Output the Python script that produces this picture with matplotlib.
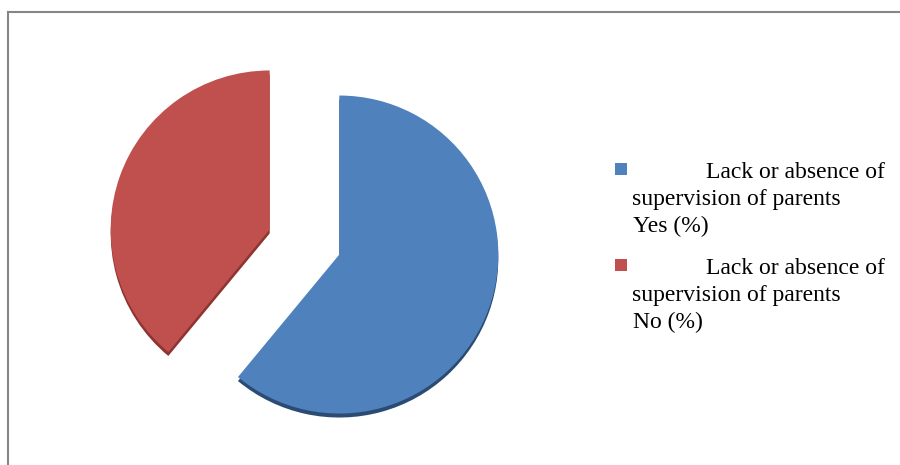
import matplotlib
matplotlib.use("Agg")
import matplotlib.pyplot as plt
from matplotlib.patches import Rectangle

# data
labels = ["Lack or absence of\nsupervision of parents\nYes (%)",
          "Lack or absence of\nsupervision of parents\nNo (%)"]
values = [61, 39]
colors = ["#4F81BD", "#C0504D"]
side_colors = ["#2B4B73", "#8E3431"]

W, H = 900, 465
fig = plt.figure(figsize=(W / 100, H / 100), dpi=100)
ax = fig.add_axes([0, 0, 1, 1])

def py(y):
    # pixel row (top origin) -> data y
    return H - y

cx, cy = 304.5, py(242)
r = 159
explode = [37, 37]  # pie() takes explode in data units here

# dark "side" of the 3d pie, slightly lower
ax.pie(values, colors=side_colors, startangle=90, counterclock=False,
       explode=explode, radius=r, center=(cx, cy - 4),
       wedgeprops=dict(linewidth=0))
ax.pie(values, colors=colors, startangle=90, counterclock=False,
       explode=explode, radius=r, center=(cx, cy),
       wedgeprops=dict(linewidth=0))

ax.set_xlim(0, W)
ax.set_ylim(0, H)
ax.set_aspect("equal")
ax.axis("off")

# chart border (only left and top visible)
ax.plot([7.5, 7.5], [py(12.5), py(470)], color="#868686", lw=1.5)
ax.plot([7.5, 905], [py(12.5), py(12.5)], color="#868686", lw=1.5)

# legend drawn by hand
font = dict(family="Liberation Serif", size=17, color="black")
tops = [163, 259]
for i, lab in enumerate(labels):
    t = tops[i]
    ax.add_patch(Rectangle((615, py(t + 12)), 12, 12, color=colors[i], lw=0))
    lines = lab.split("\n")
    ax.text(885, py(t + 15), lines[0], ha="right", va="baseline", **font)
    ax.text(632, py(t + 42), lines[1], ha="left", va="baseline", **font)
    ax.text(633, py(t + 69), lines[2], ha="left", va="baseline", **font)

fig.savefig("out.png", dpi=100)
